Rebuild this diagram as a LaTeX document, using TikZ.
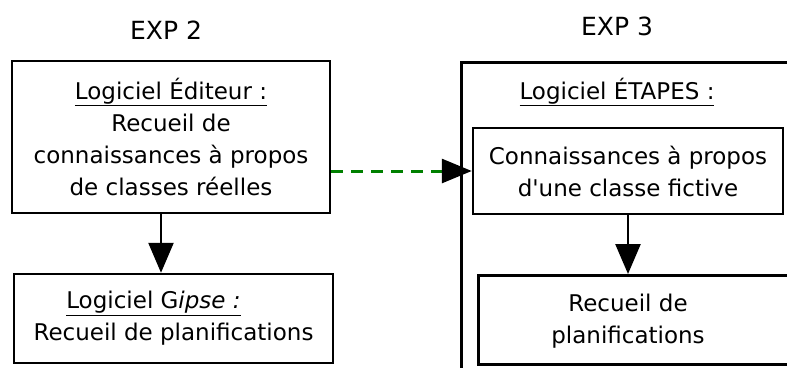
\documentclass[tikz,border=0pt]{standalone}
\usepackage{fontspec}
\setmainfont{DejaVu Sans}
\usetikzlibrary{arrows.meta,positioning}
\definecolor{linkgreen}{RGB}{0,128,0}

\begin{document}
\begin{tikzpicture}[
  x=1pt, y=-1pt,
  every node/.style={font=\fontsize{23}{32}\selectfont, align=center},
  head/.style={font=\fontsize{25}{28}\selectfont},
  bx/.style={draw, line width=2.5pt, inner sep=0pt},
  outer/.style={draw, line width=2.5pt, inner sep=0pt, anchor=north west,
                minimum width=380pt, minimum height=340pt},
  arr/.style={-{Triangle[length=30pt, width=25pt]}, line width=2.5pt},
  link/.style={-{Triangle[length=30pt, width=24pt, color=black]}, linkgreen,
               line width=3pt, dash pattern=on 12pt off 8pt}
]
\useasboundingbox (0,0) rectangle (787,367);
\clip (0,0) rectangle (787,367);

% EXP 2
\node[head] (exptwo) at (166,30) {EXP 2};
\node[bx, minimum width=318pt, minimum height=152pt] (editeur) at (171,137)
  {\underline{Logiciel Éditeur :}\\Recueil de\\connaissances à propos\\de classes réelles};
\node[bx, minimum width=319pt, minimum height=89pt] (gipse) at (173.5,318.5)
  {\underline{Logiciel G\textit{ipse :}}\hspace*{40pt}\\Recueil de planifications};
\draw[arr] ([xshift=-10pt]editeur.south) -- ([xshift=-10pt]editeur.south |- gipse.north);

% EXP 3
\node[head] (expthree) at (617,26) {EXP 3};
\node[outer] (etapes) at (460,61) {};
\node (etapestitle) at (617,92) {\underline{Logiciel ÉTAPES :}};
\node[bx, minimum width=310pt, minimum height=86pt] (connaiss) at (628,171)
  {Connaissances à propos\\d\textquotesingle une classe fictive};
\node[bx, anchor=north west, minimum width=340pt, minimum height=89pt] (recueilbox) at (477,274) {};
\node (recueil) at (628,321) {Recueil de\\planifications};
\draw[arr] (connaiss.south) -- (connaiss.south |- recueilbox.north);

% link between the two
\draw[link] (editeur.east |- connaiss.west) -- (connaiss.west);
\end{tikzpicture}
\end{document}
